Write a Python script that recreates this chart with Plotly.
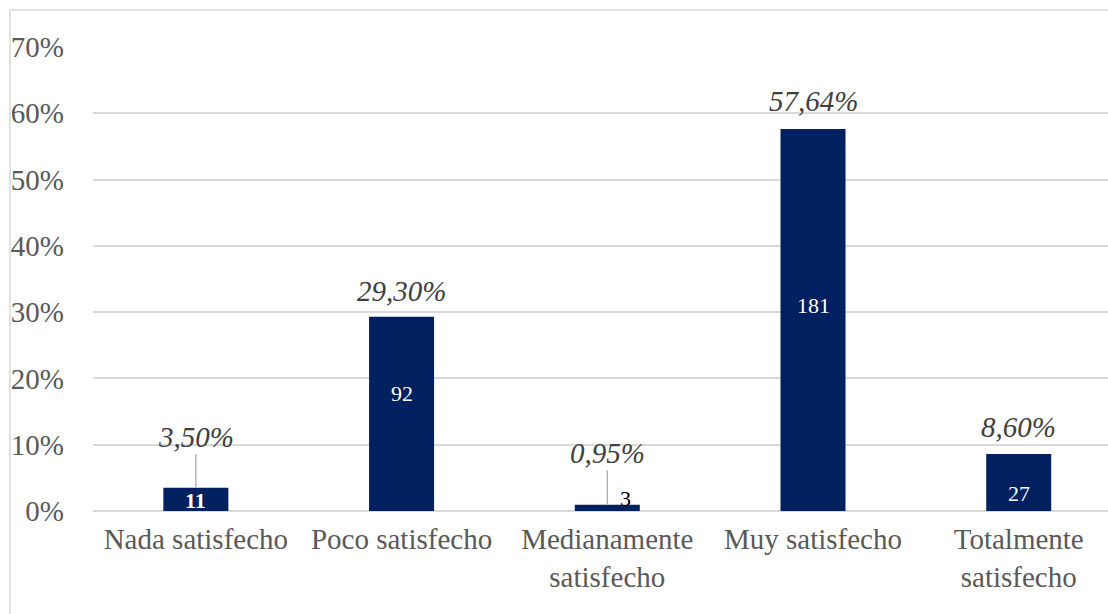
import plotly.graph_objects as go

# ---- data ----
categories = ["Nada satisfecho", "Poco satisfecho", "Medianamente<br>satisfecho",
              "Muy satisfecho", "Totalmente<br>satisfecho"]
percentages = [0.0350, 0.2930, 0.0095, 0.5764, 0.0860]
pct_labels = ["3,50%", "29,30%", "0,95%", "57,64%", "8,60%"]
counts = [11, 92, 3, 181, 27]
y_ticks = [0, 0.1, 0.2, 0.3, 0.4, 0.5, 0.6, 0.7]
y_tick_labels = ["0%", "10%", "20%", "30%", "40%", "50%", "60%", "70%"]

# ---- style ----
FONT = "Liberation Serif"
BAR = "#002060"
GRID = "#D9D9D9"
AXIS_TXT = "#595959"
PCT_TXT = "#404040"

pct_offset_px = [-51, -26, -52, -28, -27]        # label centre above bar top
leader = [True, False, True, False, False]
count_shift_px = [11, 118, 13, 206, 18]          # count label centre above baseline
count_xshift_px = [0, 0, 18, 0, 0]
count_color = ["white", "white", "black", "white", "white"]
count_bold = [True, False, False, False, False]

fig = go.Figure()
fig.add_trace(go.Bar(
    x=categories, y=percentages, width=0.316,
    marker=dict(color=BAR, line=dict(width=0)),
    hoverinfo="skip",
))

annotations = []
for i, c in enumerate(categories):
    annotations.append(dict(
        x=c, y=percentages[i], xref="x", yref="y",
        text=pct_labels[i], showarrow=True, arrowhead=0, arrowwidth=1.2,
        arrowcolor="#A6A6A6" if leader[i] else "rgba(0,0,0,0)",
        ax=0, ay=pct_offset_px[i], standoff=0, startstandoff=0,
        font=dict(family=FONT, size=29, color=PCT_TXT, style="italic"),
    ))
    txt = f"<b>{counts[i]}</b>" if count_bold[i] else str(counts[i])
    annotations.append(dict(
        x=c, y=0, xref="x", yref="y", text=txt, showarrow=False,
        yshift=count_shift_px[i], xshift=count_xshift_px[i],
        font=dict(family=FONT, size=22, color=count_color[i]),
    ))

fig.update_layout(
    width=1108, height=614,
    margin=dict(l=93, r=0, t=47, b=103),
    paper_bgcolor="white", plot_bgcolor="white",
    showlegend=False,
    annotations=annotations,
    font=dict(family=FONT, color=AXIS_TXT, size=29),
    xaxis=dict(
        range=[-0.5, 4.434], showgrid=False, zeroline=False,
        showline=False, ticks="", tickfont=dict(family=FONT, size=29, color=AXIS_TXT),
        ticklabelstandoff=8, fixedrange=True,
    ),
    yaxis=dict(
        range=[0, 0.7], tickvals=y_ticks, ticktext=y_tick_labels,
        showgrid=True, gridcolor=GRID, gridwidth=1.5,
        zeroline=True, zerolinecolor=GRID, zerolinewidth=1.5,
        showline=False, ticks="", ticklabelstandoff=28,
        tickfont=dict(family=FONT, size=29, color=AXIS_TXT), fixedrange=True,
    ),
    shapes=[dict(
        type="rect", xref="paper", yref="paper",
        x0=-0.0818, x1=1.05, y0=-0.4, y1=1.0797,
        line=dict(color=GRID, width=1.5), fillcolor="rgba(0,0,0,0)", layer="below",
    )],
)

fig.write_html("out.html")
